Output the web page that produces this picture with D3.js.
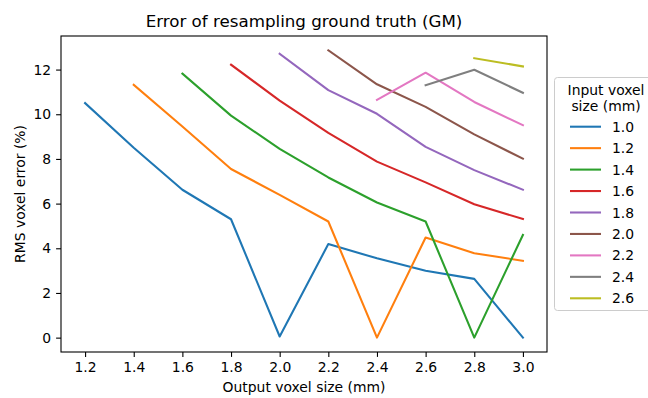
<!DOCTYPE html>
<html>
<head>
<meta charset="utf-8">
<script src="https://cdn.jsdelivr.net/npm/d3@7"></script>
<style>
  body { margin: 0; background: #fff; }
  svg { font-family: "DejaVu Sans", sans-serif; }
</style>
</head>
<body>
<svg id="chart" width="648" height="398"></svg>
<script>
// output voxel sizes on the x axis
const outputSizes = [1.2, 1.4, 1.6, 1.8, 2.0, 2.2, 2.4, 2.6, 2.8, 3.0];
// input voxel sizes (one line each)
const inputSizes = ["1.0", "1.2", "1.4", "1.6", "1.8", "2.0", "2.2", "2.4", "2.6"];
// RMS error per input size, starting at output = input + 0.2
const err10 = [10.5, 8.5, 6.62, 5.3, 0.05, 4.19, 3.55, 2.99, 2.63, 0.0];
const err12 = [11.32, 9.45, 7.55, 6.39, 5.2, 0.0, 4.48, 3.78, 3.44];
const err14 = [11.82, 9.94, 8.45, 7.17, 6.05, 5.2, 0.0, 4.6];
const err16 = [12.22, 10.61, 9.17, 7.88, 6.95, 5.97, 5.31];
const err18 = [12.71, 11.08, 10.02, 8.54, 7.5, 6.62];
const err20 = [12.86, 11.34, 10.33, 9.1, 8.01];
const err22 = [10.64, 11.86, 10.55, 9.51];
const err24 = [11.3, 11.99, 10.96];
const err26 = [12.51, 12.14];
const yTicks = [0, 2, 4, 6, 8, 10, 12];
const colors = ["#1f77b4", "#ff7f0e", "#2ca02c", "#d62728", "#9467bd",
                "#8c564b", "#e377c2", "#7f7f7f", "#bcbd22"];

const allErr = [err10, err12, err14, err16, err18, err20, err22, err24, err26];
let series = allErr.map((vals, i) => ({
    name: inputSizes[i],
    color: colors[i],
    points: vals.map((v, j) => ({x: outputSizes[outputSizes.length - vals.length + j], y: v}))
}));

const plotL = 61, plotR = 547, plotT = 36, plotB = 352;
const svg = d3.select("#chart");

let xExt = d3.extent(outputSizes);
let xPad = (xExt[1] - xExt[0]) * 0.055;
let x = d3.scaleLinear().domain([xExt[0] - xPad, xExt[1] + xPad]).range([plotL, plotR]);

let yMax = d3.max(allErr, d => d3.max(d));
let yPad = yMax * 0.05;
let y = d3.scaleLinear().domain([-yPad, yMax + yPad]).range([plotB, plotT]);

// lines
let line = d3.line().x(d => x(d.x)).y(d => y(d.y));
svg.append("g")
    .selectAll("path")
    .data(series)
    .join("path")
    .attr("d", d => line(d.points))
    .attr("fill", "none")
    .attr("stroke", d => d.color)
    .attr("stroke-width", 2.08)
    .attr("stroke-linejoin", "round")
    .attr("stroke-linecap", "square");

// axes
let xAxis = d3.axisBottom(x).tickValues(outputSizes).tickFormat(d3.format(".1f"))
    .tickSizeOuter(0).tickSize(4.9).tickPadding(4.9);
let yAxis = d3.axisLeft(y).tickValues(yTicks).tickFormat(d3.format("d"))
    .tickSizeOuter(0).tickSize(4.9).tickPadding(4.9);

let gx = svg.append("g").attr("transform", "translate(0," + plotB + ")").call(xAxis);
let gy = svg.append("g").attr("transform", "translate(" + plotL + ",0)").call(yAxis);
[gx, gy].forEach(g => {
    g.select(".domain").remove();
    g.selectAll("line").attr("stroke", "#000").attr("stroke-width", 1.1);
    g.selectAll("text").attr("font-size", 13.9).attr("fill", "#000")
        .attr("font-family", "DejaVu Sans");
});

// frame
svg.append("rect")
    .attr("x", plotL).attr("y", plotT)
    .attr("width", plotR - plotL).attr("height", plotB - plotT)
    .attr("fill", "none").attr("stroke", "#000").attr("stroke-width", 1.1);

// titles
svg.append("text")
    .attr("x", (plotL + plotR) / 2).attr("y", 27)
    .attr("text-anchor", "middle").attr("font-size", 16.7)
    .text("Error of resampling ground truth (GM)");

svg.append("text")
    .attr("x", (plotL + plotR) / 2).attr("y", 392)
    .attr("text-anchor", "middle").attr("font-size", 13.9)
    .text("Output voxel size (mm)");

svg.append("text")
    .attr("transform", "translate(25," + (plotT + plotB) / 2 + ") rotate(-90)")
    .attr("text-anchor", "middle").attr("font-size", 13.9)
    .text("RMS voxel error (%)");

// legend
let lg = svg.append("g");
lg.append("rect")
    .attr("x", 554.5).attr("y", 77.5)
    .attr("width", 110).attr("height", 233)
    .attr("rx", 3)
    .attr("fill", "#fff").attr("fill-opacity", 0.8)
    .attr("stroke", "#cccccc").attr("stroke-width", 1);

lg.append("text").attr("x", 606).attr("y", 95).attr("text-anchor", "middle")
    .attr("font-size", 13.9).text("Input voxel");
lg.append("text").attr("x", 606).attr("y", 110.5).attr("text-anchor", "middle")
    .attr("font-size", 13.9).text("size (mm)");

let ly = d3.scalePoint().domain(inputSizes).range([126.7, 298.3]);
let item = lg.selectAll(".item")
    .data(series)
    .join("g")
    .attr("class", "item")
    .attr("transform", d => "translate(0," + ly(d.name) + ")");
item.append("line")
    .attr("x1", 570).attr("x2", 601)
    .attr("stroke", d => d.color).attr("stroke-width", 2.08);
item.append("text")
    .attr("x", 612).attr("y", 5)
    .attr("font-size", 13.9)
    .text(d => d.name);
</script>
</body>
</html>
